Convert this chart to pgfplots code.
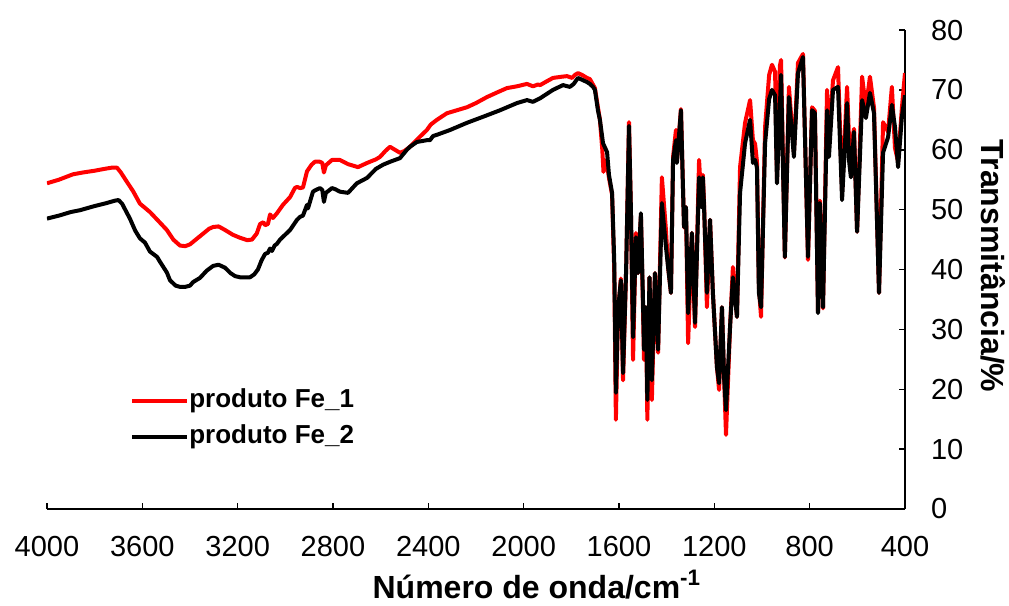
\documentclass[border=0pt]{standalone}
\usepackage{fontspec}
\setmainfont{Liberation Sans}
\usepackage{pgfplots}
\usepackage{pgfplotstable}
\pgfplotsset{compat=1.18}

\pgfplotstableread{
wn T
4000 54.4
3950 55.0
3891 55.9
3850 56.2
3800 56.5
3760 56.8
3730 57.0
3706 57.0
3690 56.2
3664 54.6
3639 53.1
3610 51.0
3568 49.6
3530 48.0
3497 46.6
3470 45.0
3442 44.0
3420 43.9
3400 44.2
3360 45.5
3320 46.8
3303 47.1
3280 47.2
3253 46.6
3220 45.8
3190 45.3
3160 44.9
3140 45.0
3120 46.0
3106 47.6
3092 47.9
3085 47.4
3073 47.6
3064 49.2
3052 48.6
3035 49.4
3010 50.8
2980 52.1
2960 53.6
2951 53.8
2938 53.6
2926 53.7
2909 56.4
2890 57.5
2876 58.0
2855 58.0
2845 57.8
2838 56.2
2830 57.4
2804 58.3
2771 58.3
2737 57.6
2695 57.1
2657 57.8
2620 58.4
2603 58.8
2580 59.8
2561 60.5
2540 60.0
2519 59.5
2500 59.8
2477 60.5
2440 62.0
2406 63.3
2390 64.2
2364 65.0
2322 66.1
2280 66.6
2238 67.1
2200 67.8
2154 68.8
2110 69.6
2070 70.3
2028 70.6
1986 71.0
1961 70.6
1940 70.9
1931 70.8
1900 71.5
1877 72.0
1840 72.2
1818 72.3
1797 72.0
1785 72.5
1772 72.8
1755 72.5
1734 72.0
1722 71.8
1701 70.3
1690 67.5
1680 65.0
1670 60.0
1665 56.3
1660 58.3
1650 57.5
1642 55.3
1629 52.5
1620 40.0
1613 14.9
1604 33.0
1592 38.5
1583 21.5
1570 40.0
1558 64.6
1550 50.0
1541 24.9
1529 46.1
1520 39.4
1508 49.0
1499 33.0
1495 24.9
1487 33.7
1481 14.9
1472 38.7
1462 18.2
1449 39.4
1436 26.1
1420 55.4
1403 46.6
1394 40.4
1382 36.1
1373 58.8
1361 63.3
1357 58.0
1340 66.8
1331 53.0
1327 47.0
1319 50.4
1310 27.7
1294 46.1
1281 30.4
1264 58.3
1254 51.0
1248 55.8
1243 51.0
1231 33.7
1218 48.3
1206 36.1
1189 23.7
1180 19.9
1168 33.7
1159 22.0
1151 12.4
1134 30.4
1122 40.4
1105 32.1
1092 57.1
1071 64.5
1050 68.3
1038 61.6
1029 61.0
1021 58.0
1013 37.0
1004 32.1
987 63.8
970 72.5
958 74.2
945 73.0
937 55.0
925 74.0
920 75.0
904 42.0
887 70.5
866 59.5
849 74.5
828 76.0
807 41.6
790 67.1
778 66.5
765 33.0
757 51.5
744 33.5
727 70.0
719 62.0
702 71.6
681 73.8
664 53.0
643 70.5
635 62.0
627 60.0
614 63.5
601 46.3
580 72.2
564 67.0
547 72.2
530 67.0
509 36.1
492 64.6
471 63.0
455 70.5
442 60.3
429 58.0
413 67.0
400 72.8
}\feone

\pgfplotstableread{
wn T
4000 48.5
3950 49.0
3900 49.6
3862 49.9
3800 50.6
3750 51.1
3715 51.5
3700 51.6
3685 51.0
3664 49.4
3652 48.5
3630 46.5
3610 45.2
3589 44.5
3568 43.0
3538 42.1
3526 41.3
3497 39.5
3484 38.2
3460 37.3
3442 37.1
3420 37.1
3400 37.3
3387 37.9
3358 38.6
3330 39.8
3303 40.6
3280 40.8
3253 40.3
3230 39.4
3211 38.9
3190 38.7
3148 38.7
3130 39.2
3115 40.0
3100 41.5
3085 42.6
3073 42.8
3064 43.5
3056 43.1
3045 44.0
3035 44.3
3022 45.0
2980 46.6
2951 48.3
2938 48.8
2926 49.0
2909 50.8
2905 50.2
2884 53.0
2876 53.2
2855 53.6
2845 53.3
2838 51.3
2830 52.8
2804 53.6
2790 53.4
2771 53.0
2737 52.8
2700 54.4
2657 55.3
2620 56.8
2590 57.5
2560 58.0
2519 58.6
2490 60.0
2477 60.5
2448 61.3
2406 61.6
2393 61.6
2380 62.3
2364 62.5
2309 63.3
2238 64.5
2171 65.5
2099 66.6
2028 67.8
1986 68.3
1961 68.0
1931 68.6
1877 70.0
1835 70.8
1806 70.5
1790 71.0
1772 72.0
1750 71.6
1734 71.3
1722 71.0
1709 70.5
1701 70.0
1688 66.5
1680 65.0
1667 61.1
1650 59.6
1642 55.8
1629 52.8
1620 41.5
1613 19.4
1604 33.2
1592 38.2
1583 22.7
1570 40.0
1558 64.0
1550 50.0
1541 28.7
1529 45.4
1520 39.4
1508 49.4
1499 34.4
1495 26.6
1487 33.7
1481 18.2
1472 38.7
1462 21.5
1449 39.4
1436 26.6
1420 51.1
1403 43.8
1394 40.4
1382 36.1
1373 58.3
1361 61.6
1357 57.8
1340 66.6
1331 52.8
1327 47.1
1319 50.4
1310 32.7
1294 46.1
1281 31.1
1264 55.4
1254 50.4
1248 55.4
1243 50.4
1231 36.1
1218 48.3
1206 36.1
1189 23.7
1180 21.0
1168 33.7
1159 22.0
1151 16.5
1134 30.4
1122 38.7
1105 32.1
1092 52.8
1071 61.1
1050 65.0
1038 57.8
1029 58.3
1021 57.0
1013 36.1
1004 33.7
987 61.1
970 68.5
958 70.0
945 69.1
937 54.4
920 72.5
904 42.1
887 68.8
866 58.8
849 72.8
828 75.5
807 42.1
790 66.6
778 66.1
765 32.7
757 51.1
744 33.7
727 66.6
719 58.8
702 70.0
681 70.5
664 51.6
643 67.8
635 58.3
627 55.4
614 63.0
601 46.3
580 68.3
564 65.3
547 69.5
530 66.1
509 36.1
492 59.5
471 62.1
455 67.5
442 63.8
429 57.1
413 65.5
400 69.1
}\fetwo

\begin{document}
\begin{tikzpicture}
\path[use as bounding box] (-23.5pt,-48.5pt) rectangle (481pt,254.5pt);
\begin{axis}[
  at={(0,0)}, anchor=south west,
  scale only axis, width=429pt, height=239.5pt,
  x dir=reverse, xmin=400, xmax=4000, ymin=0, ymax=80,
  xtick={400,800,...,4000}, ytick={0,10,...,80},
  axis x line*=bottom, axis y line*=right,
  tick align=inside, major tick length=3pt,
  axis line style={line width=0.75pt, black},
  every tick/.style={line width=0.75pt, black},
  /pgf/number format/assume math mode=true,
  /pgf/number format/1000 sep={},
  tick label style={font=\fontsize{14.5}{17}\selectfont},
  xticklabel style={yshift=-10pt},
  yticklabel style={xshift=9.5pt, anchor=west},
  xlabel={Número de onda/cm\textsuperscript{-1}},
  ylabel={Transmitância/\%},
  every axis x label/.style={at={(axis description cs:0.571,0)}, anchor=base, yshift=-44.5pt,
    font=\fontsize{16}{19}\bfseries\selectfont},
  every axis y label/.style={at={(axis description cs:1,0.507)}, anchor=center, rotate=-90, yshift=44pt,
    font=\fontsize{16}{19}\bfseries\selectfont},
  legend style={at={(0.0967,0.188)}, anchor=west, draw=none, fill=none,
    font=\fontsize{13}{15}\bfseries\selectfont, inner sep=0pt, row sep=5.5pt,
    nodes={inner sep=0pt, text height=9.5pt, text depth=3pt},
    /tikz/every even column/.append style={column sep=2.5pt}},
  legend cell align=left,
  legend image code/.code={\draw[#1] (0pt,0pt) -- (27.5pt,0pt);},
  line join=round,
]
\addplot[red, line width=2pt] table[x=wn, y=T] {\feone};
\addlegendentry{produto Fe\_1}
\addplot[black, line width=2pt] table[x=wn, y=T] {\fetwo};
\addlegendentry{produto Fe\_2}
\end{axis}
\end{tikzpicture}
\end{document}
